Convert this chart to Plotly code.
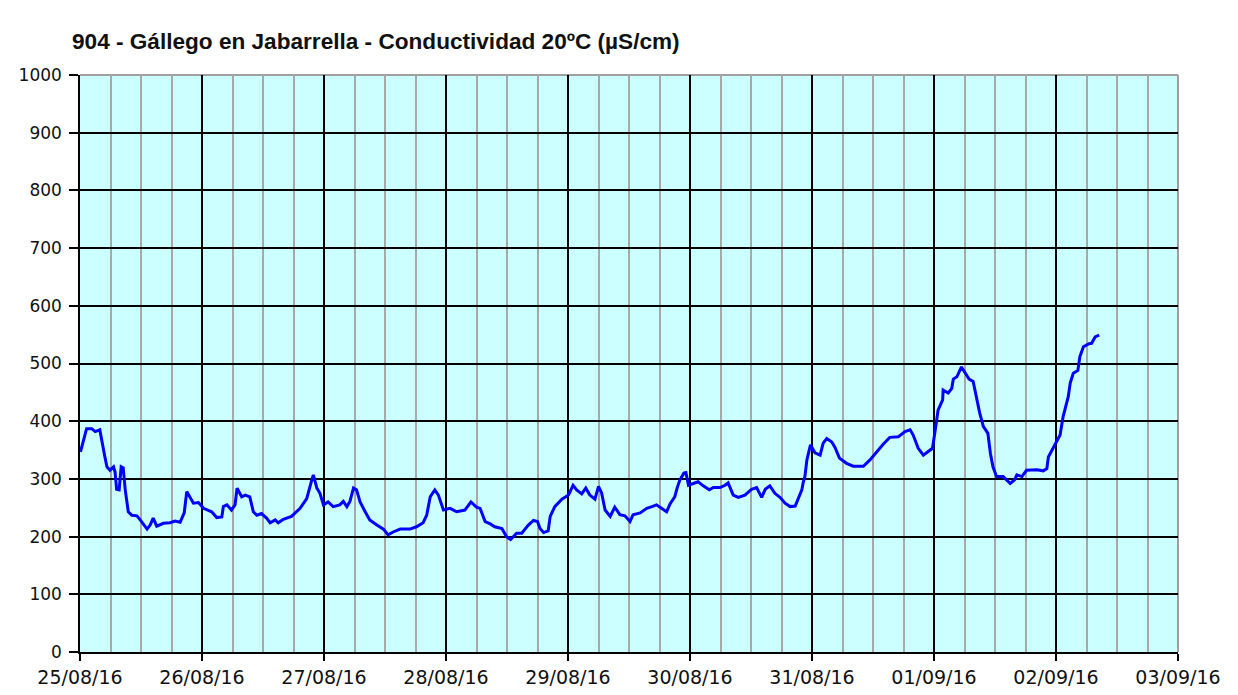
import pandas as pd
import plotly.graph_objects as go

# hours elapsed since 25/08/16 00:00
hours = [0.1, 0.6, 1.3, 2.3, 3.0, 3.9, 4.3, 4.9, 5.3, 5.9, 6.6, 6.9, 7.2, 7.7, 8.1, 8.5, 8.9,
         9.5, 10.2, 11.2, 12.1, 13.2, 13.8, 14.4, 15.1, 16.4, 17.7, 18.7, 19.7, 20.5, 21.0,
         21.6, 22.3, 23.3, 24.3, 25.9, 26.9, 27.9, 28.2, 28.9, 29.8, 30.5, 30.9, 31.8, 32.5,
         33.4, 34.1, 34.8, 35.7, 36.7, 37.4, 38.4, 39.0, 40.0, 41.6, 43.3, 44.6, 45.4, 45.9,
         46.6, 47.2, 47.9, 48.8, 49.8, 51.1, 51.8, 52.5, 53.1, 53.8, 54.4, 55.1, 56.1, 57.0,
         58.4, 59.7, 60.6, 61.6, 63.0, 64.9, 66.2, 67.5, 68.2, 68.9, 69.8, 70.5, 71.5, 72.8,
         74.1, 75.7, 76.9, 78.0, 78.7, 79.7, 80.7, 81.6, 83.0, 83.9, 84.7, 85.9, 86.9, 88.2,
         89.2, 90.0, 90.5, 91.2, 92.1, 92.5, 93.4, 94.8, 96.1, 96.5, 97.0, 97.7, 98.7, 99.5,
         100.3, 101.3, 102.0, 102.6, 103.3, 104.3, 105.2, 106.2, 107.2, 108.2, 108.8, 110.2,
         111.5, 112.5, 113.4, 114.4, 115.4, 116.1, 117.0, 117.5, 118.0, 118.8, 119.2, 119.7,
         120.6, 121.6, 122.6, 123.8, 124.6, 125.9, 126.9, 127.5, 128.5, 129.5, 130.8, 132.1,
         133.1, 134.1, 134.8, 135.7, 136.7, 137.7, 138.7, 139.7, 140.7, 141.6, 142.0, 142.3,
         142.6, 143.0, 143.7, 144.6, 145.6, 146.2, 146.9, 147.9, 148.5, 149.4, 150.8, 152.1,
         154.1, 155.4, 156.7, 158.0, 159.3, 161.0, 162.3, 163.3, 163.9, 164.9, 165.9, 166.9,
         167.7, 168.2, 168.8, 169.7, 169.8, 170.8, 171.5, 171.8, 172.5, 173.4, 174.1, 174.9,
         175.7, 176.4, 177.0, 177.7, 178.6, 179.1, 179.6, 180.3, 181.6, 183.0, 183.9, 184.3,
         185.3, 186.2, 188.2, 189.5, 190.2, 190.5, 191.2, 192.0, 192.8, 193.4, 193.8, 194.4,
         194.8, 195.4, 196.3, 196.7, 197.4, 198.4, 199.0, 199.7, 200.5]

conductivity = [347, 362, 387, 387, 382, 385, 364, 338, 321, 315, 321, 312, 282, 281, 321, 319, 281,
                243, 237, 236, 226, 213, 220, 232, 218, 223, 224, 227, 225, 241, 278,
                269, 258, 259, 249, 243, 233, 234, 252, 255, 246, 255, 284, 269, 272,
                269, 243, 237, 240, 232, 224, 229, 224, 230, 235, 249, 266, 292, 307,
                284, 275, 255, 260, 252, 255, 261, 252, 261, 284, 281, 260, 243, 229,
                220, 213, 203, 208, 213, 213, 217, 224, 237, 269, 281, 272, 246, 249,
                243, 246, 260, 251, 249, 226, 222, 217, 214, 200, 195, 206, 206, 220,
                228, 226, 214, 207, 210, 235, 252, 265, 272, 281, 289, 281, 274, 284,
                272, 265, 287, 276, 246, 235, 251, 238, 236, 226, 238, 241,
                249, 252, 255, 249, 243, 257, 269, 285, 298, 310, 311, 289,
                292, 295, 288, 281, 285, 285, 289, 293, 272, 268, 272, 282,
                285, 268, 282, 288, 275, 268, 258, 252, 253, 272, 281, 295,
                304, 333, 359, 345, 341, 362, 370, 364, 355, 336, 327, 322,
                322, 333, 347, 360, 372, 373, 382, 385, 376, 353, 341, 347,
                353, 382, 419, 437, 454, 449, 457, 473, 477, 494, 485, 473,
                469, 437, 414, 391, 379, 344, 321, 304, 304, 292, 299, 307,
                304, 315, 316, 314, 318, 338, 349, 364, 376, 408, 422, 442,
                466, 483, 488, 512, 529, 534, 535, 546, 549]

start = pd.Timestamp("2016-08-25 00:00")
times = [start + pd.Timedelta(hours=h) for h in hours]

x_range = ["2016-08-25", "2016-09-03"]
y_range = [0, 1000]
title_text = "904 - Gállego en Jabarrella - Conductividad 20ºC (µS/cm)"

W, H = 1230, 687  # page body has an 8px margin

fig = go.Figure()
fig.add_trace(go.Scatter(x=times, y=conductivity, mode="lines",
                         line=dict(color="#0000FF", width=3), hoverinfo="x+y"))

fig.update_layout(
    width=W, height=H,
    margin=dict(l=72, r=60, t=67, b=43, autoexpand=False),
    paper_bgcolor="white", plot_bgcolor="#CCFFFF",
    showlegend=False,
    title=dict(text=title_text, x=64 / W, xanchor="left", y=1 - 33 / H, yanchor="middle",
               font=dict(family="Liberation Sans, Arial", size=22.6, color="#111111", weight="bold")),
)
fig.update_xaxes(
    type="date", range=x_range, dtick=86400000, tick0="2016-08-25",
    tickformat="%d/%m/%y", showgrid=True, gridcolor="black", gridwidth=1.5,
    minor=dict(dtick=6 * 3600000, showgrid=True, gridcolor="#A8A8A8", gridwidth=2),
    ticks="outside", ticklen=7, tickcolor="black", tickwidth=1.5,
    showline=True, linecolor="black", linewidth=1.5, mirror=False,
    tickfont=dict(family="DejaVu Sans, Verdana", size=19, color="#111111"),
    zeroline=False, fixedrange=True, automargin=False,
)
fig.update_yaxes(
    range=y_range, dtick=100, showgrid=True, gridcolor="black", gridwidth=1.5,
    ticks="outside", ticklen=9, tickcolor="black", tickwidth=1.5,
    ticklabelstandoff=4,
    showline=True, linecolor="black", linewidth=1.5,
    tickfont=dict(family="DejaVu Sans, Verdana", size=17, color="#111111"),
    zeroline=False, fixedrange=True, automargin=False,
)
# gray frame on top and right
fig.add_shape(type="line", xref="paper", yref="paper", x0=0, x1=1, y0=1, y1=1,
              line=dict(color="#A0A0A0", width=2), layer="below")
fig.add_shape(type="line", xref="paper", yref="paper", x0=1, x1=1, y0=0, y1=1,
              line=dict(color="#A0A0A0", width=2), layer="below")

fig.write_html("out.html")
